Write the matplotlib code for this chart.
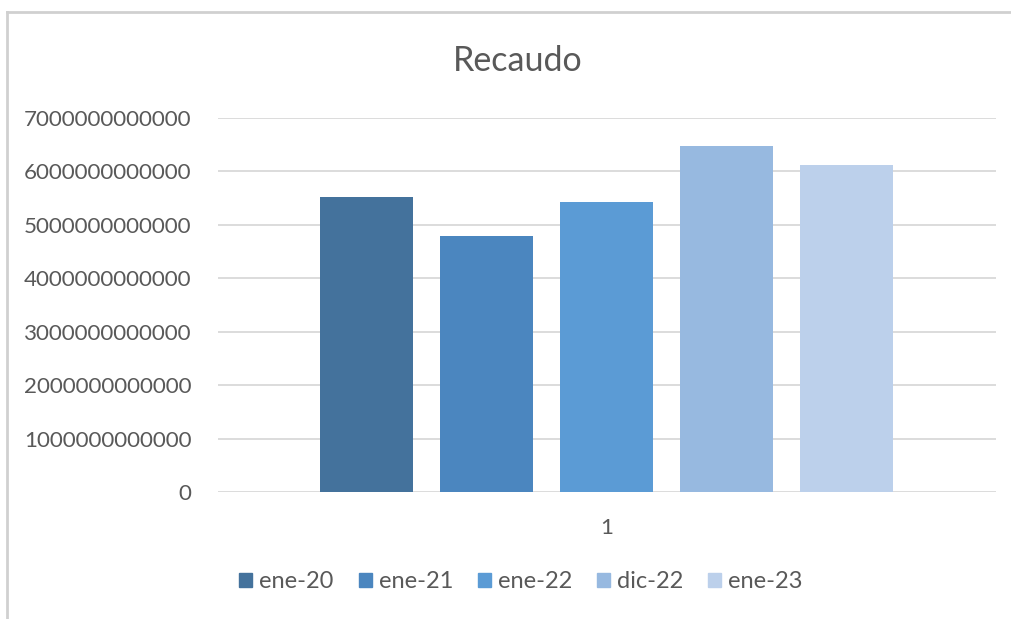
import matplotlib
matplotlib.use("Agg")
import matplotlib.pyplot as plt
from matplotlib.lines import Line2D

plt.rcParams['font.family'] = ['Lato', 'DejaVu Sans']

title = "Recaudo"
series = ["ene-20", "ene-21", "ene-22", "dic-22", "ene-23"]
values = [5.53e12, 4.79e12, 5.43e12, 6.48e12, 6.12e12]
colors = ["#44729C", "#4B86BF", "#5B9BD5", "#97B9E0", "#BCD0EB"]
y_ticks = [0, 1e12, 2e12, 3e12, 4e12, 5e12, 6e12, 7e12]
y_tick_labels = ["0", "1000000000000", "2000000000000", "3000000000000",
                 "4000000000000", "5000000000000", "6000000000000", "7000000000000"]
x_label = "1"

W, H = 1011, 619
fig = plt.figure(figsize=(W / 100, H / 100), dpi=100)
ax = fig.add_axes([218 / W, 1 - 492 / H, (996 - 218) / W, (492 - 118) / H])

grid_c = "#D9D9D9"
text_c = "#595959"

for y in y_ticks:
    ax.axhline(y, color=grid_c, lw=1.3, zorder=0)

pos = list(range(len(series)))
bars = ax.bar(pos, values, width=93 / 120, color=colors, zorder=2)

ax.set_ylim(0, 7e12)
ax.set_xlim(2 - (606.5 - 218) / 120, 2 + (996 - 606.5) / 120)
ax.set_yticks(y_ticks)
ax.set_yticklabels(y_tick_labels)
ax.set_xticks([2])
ax.set_xticklabels([x_label])
ax.tick_params(axis='y', length=0, pad=19, labelsize=16.1, labelcolor=text_c)
ax.tick_params(axis='x', length=0, pad=19, labelsize=16.1, labelcolor=text_c)
for s in ax.spines.values():
    s.set_visible(False)

fig.text(518 / W, 1 - 61 / H, title, ha='center', va='center', fontsize=24.5, color=text_c)

handles = [plt.Rectangle((0, 0), 1, 1, color=c) for c in colors]
fig.legend(handles, series, loc='center', bbox_to_anchor=(521 / W, 1 - 582 / H), ncol=5,
           frameon=False, fontsize=17, labelcolor=text_c, handlelength=0.55, handleheight=0.55,
           handletextpad=0.3, columnspacing=1.05)

# chart frame
fig.add_artist(Line2D([7 / W, 7 / W], [0, 1 - 12 / H], color="#D0D0D0", lw=2, transform=fig.transFigure))
fig.add_artist(Line2D([7 / W, 1], [1 - 12 / H, 1 - 12 / H], color="#D0D0D0", lw=2, transform=fig.transFigure))

fig.savefig("out.png", dpi=100)
